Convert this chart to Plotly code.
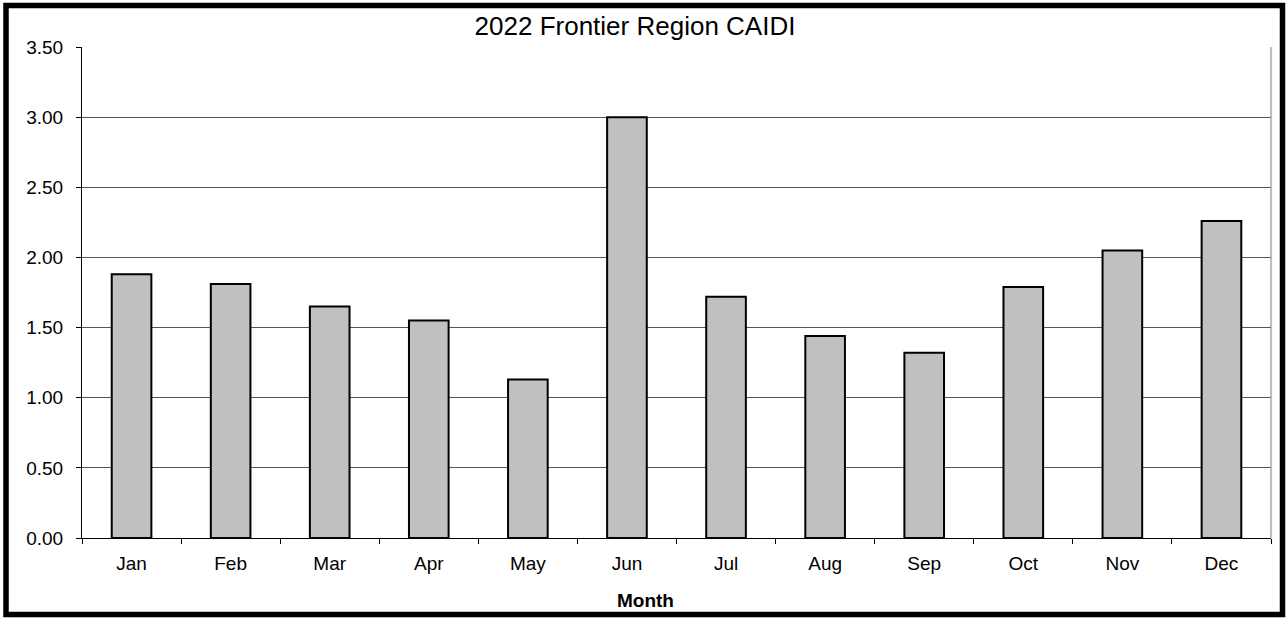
import plotly.graph_objects as go

# Monthly CAIDI values for the Frontier region, 2022
months = ["Jan", "Feb", "Mar", "Apr", "May", "Jun",
          "Jul", "Aug", "Sep", "Oct", "Nov", "Dec"]
caidi = [1.88, 1.81, 1.65, 1.55, 1.13, 3.00,
         1.72, 1.44, 1.32, 1.79, 2.05, 2.26]
y_ticks = [0.0, 0.5, 1.0, 1.5, 2.0, 2.5, 3.0, 3.5]

W, H = 1288, 618
ML, MR, MT, MB = 82, 17, 47, 80
font_family = "Arial, Liberation Sans, sans-serif"

fig = go.Figure(
    go.Bar(
        x=months,
        y=caidi,
        width=0.4,
        marker=dict(color="#c0c0c0", line=dict(color="black", width=2)),
    )
)

pw = W - ML - MR
ph = H - MT - MB


def px_x(p):
    return (p - ML) / pw


def px_y(p):
    return (H - MB - p) / ph


fig.update_layout(
    width=W,
    height=H,
    margin=dict(l=ML, r=MR, t=MT, b=MB),
    paper_bgcolor="white",
    plot_bgcolor="white",
    showlegend=False,
    font=dict(family=font_family, color="black", size=19),
    title=dict(
        text="2022 Frontier Region CAIDI",
        x=635 / W,
        xanchor="center",
        y=1 - 26 / H,
        yanchor="middle",
        font=dict(size=26, family=font_family, color="black"),
    ),
    xaxis=dict(
        showline=True,
        linecolor="black",
        linewidth=1,
        ticks="outside",
        ticklen=5,
        tickcolor="black",
        tickson="boundaries",
        showgrid=False,
        tickfont=dict(size=19),
        ticklabelstandoff=8,
    ),
    yaxis=dict(
        range=[0, 3.5],
        tickvals=y_ticks,
        tickformat=".2f",
        showline=True,
        linecolor="black",
        linewidth=1,
        ticks="outside",
        ticklen=5,
        tickcolor="black",
        showgrid=True,
        gridcolor="#555555",
        gridwidth=1,
        zeroline=False,
        tickfont=dict(size=19),
        ticklabelstandoff=9,
    ),
    annotations=[
        dict(text="<b>Month</b>", xref="paper", yref="paper",
             x=px_x(645), y=px_y(600), xanchor="center", yanchor="middle",
             showarrow=False, font=dict(size=19, family=font_family, color="black")),
    ],
    shapes=[
        # right edge of the plotting area
        dict(type="line", xref="paper", yref="paper", x0=1, x1=1, y0=0, y1=1,
             line=dict(color="#808080", width=1)),
        # outer chart frame
        dict(type="rect", xref="paper", yref="paper",
             x0=px_x(6), x1=px_x(1282.5), y0=px_y(614.5), y1=px_y(5.5),
             line=dict(color="black", width=5.5), layer="above"),
    ],
)

fig.write_html("out.html")
